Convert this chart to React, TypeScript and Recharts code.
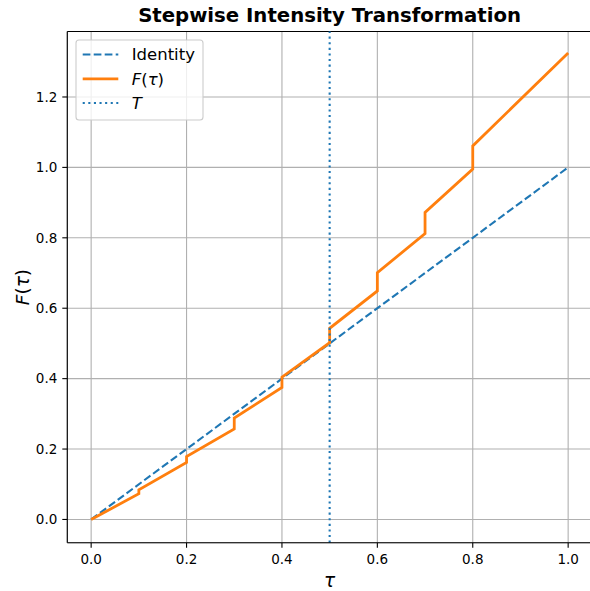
import React from 'react';
import { LineChart, Line, XAxis, YAxis, CartesianGrid, ReferenceLine, Label } from 'recharts';

// values
const TAU_POINTS = [0, 0.1, 0.1, 0.2, 0.2, 0.3, 0.3, 0.4, 0.4, 0.5, 0.5, 0.6, 0.6, 0.7, 0.7, 0.8, 0.8, 1.0];
const F_POINTS = [0, 0.073, 0.084, 0.162, 0.179, 0.257, 0.288, 0.375, 0.404, 0.502, 0.543, 0.649, 0.701, 0.812, 0.872, 0.995, 1.061, 1.325];
const IDENTITY_X = [0, 1];
const IDENTITY_Y = [0, 1];
const THRESHOLD = 0.5;

const X_TICKS = [0, 0.2, 0.4, 0.6, 0.8, 1.0];
const Y_TICKS = [0, 0.2, 0.4, 0.6, 0.8, 1.0, 1.2];
const X_DOMAIN: [number, number] = [-0.05, 1.05];
const Y_DOMAIN: [number, number] = [-0.066, 1.386];

const BLUE = '#1f77b4';
const ORANGE = '#ff7f0e';
const FONT = '"DejaVu Sans", sans-serif';

const fData = TAU_POINTS.map((x, i) => ({ x, y: F_POINTS[i] }));
const idData = IDENTITY_X.map((x, i) => ({ x, y: IDENTITY_Y[i] }));

const YLabel = ({ viewBox }: any) => {
  const cy = viewBox.y + viewBox.height / 2;
  return (
    <text transform={`translate(23, ${cy}) rotate(-90)`} textAnchor="middle" dy="0.35em" fontSize={18.5} fontFamily={FONT} fill="#000">
      <tspan fontStyle="italic">F</tspan>(<tspan fontStyle="italic">τ</tspan>)
    </text>
  );
};

const XLabel = ({ viewBox }: any) => {
  const cx = viewBox.x + viewBox.width / 2;
  return (
    <text x={cx} y={581} textAnchor="middle" dy="0.35em" fontSize={18.5} fontFamily={FONT} fontStyle="italic" fill="#000">
      τ
    </text>
  );
};

const tickStyle = { fontSize: 13.5, fontFamily: FONT, fill: '#000' };
const fmt = (v: number) => v.toFixed(1);

const LegendBox = () => {
  const rows = [
    { label: 'Identity', stroke: BLUE, dash: '7.7 3.3', width: 2.1 },
    { label: 'F(τ)', stroke: ORANGE, dash: undefined, width: 2.8 },
    { label: 'T', stroke: BLUE, dash: '2.1 3.5', width: 2.1 },
  ];
  const ys = [54.5, 78.8, 103];
  return (
    <g>
      <rect x={76} y={40} width={127} height={80} rx={3} fill="#fff" fillOpacity={0.8} stroke="#cccccc" strokeWidth={1.1} />
      {rows.map((r, i) => (
        <g key={r.label}>
          <line x1={82.7} x2={118.3} y1={ys[i]} y2={ys[i]} stroke={r.stroke} strokeWidth={r.width} strokeDasharray={r.dash} />
          <text x={131.7} y={ys[i]} dy="0.35em" fontSize={16.5} fontFamily={FONT} fill="#000">
            {r.label === 'Identity' ? 'Identity' : r.label === 'T' ? <tspan fontStyle="italic">T</tspan> : (
              <>
                <tspan fontStyle="italic">F</tspan>(<tspan fontStyle="italic">τ</tspan>)
              </>
            )}
          </text>
        </g>
      ))}
    </g>
  );
};

export default function App() {
  return (
    <div style={{ position: 'absolute', left: 0, top: 0, width: 590, height: 591, overflow: 'hidden', background: '#fff' }}>
      <LineChart width={600} height={591} margin={{ top: 31.5, right: 8, bottom: 0, left: 0 }}>
        <CartesianGrid stroke="#b0b0b0" strokeWidth={1.1} />
        <XAxis
          type="number"
          dataKey="x"
          domain={X_DOMAIN}
          ticks={X_TICKS}
          allowDataOverflow
          height={48.3}
          tickFormatter={fmt}
          tick={tickStyle}
          tickSize={5}
          tickMargin={6.5}
          axisLine={{ stroke: '#000', strokeWidth: 1.1 }}
          tickLine={{ stroke: '#000', strokeWidth: 1.1 }}
        >
          <Label content={<XLabel />} />
        </XAxis>
        <YAxis
          type="number"
          dataKey="y"
          domain={Y_DOMAIN}
          ticks={Y_TICKS}
          allowDataOverflow
          width={67.3}
          tickFormatter={fmt}
          tick={tickStyle}
          tickSize={5}
          tickMargin={5}
          axisLine={{ stroke: '#000', strokeWidth: 1.1 }}
          tickLine={{ stroke: '#000', strokeWidth: 1.1 }}
        >
          <Label content={<YLabel />} />
        </YAxis>
        <ReferenceLine y={Y_DOMAIN[1]} stroke="#000" strokeWidth={1.1} />
        <ReferenceLine x={X_DOMAIN[1]} stroke="#000" strokeWidth={1.1} />
        <Line data={idData} dataKey="y" stroke={BLUE} strokeWidth={2.1} strokeDasharray="7.7 3.3" dot={false} isAnimationActive={false} />
        <Line data={fData} dataKey="y" stroke={ORANGE} strokeWidth={2.8} dot={false} isAnimationActive={false} />
        <ReferenceLine x={THRESHOLD} stroke={BLUE} strokeWidth={2.1} strokeDasharray="2.1 3.5" />
      </LineChart>
      <svg width={590} height={591} style={{ position: 'absolute', left: 0, top: 0, pointerEvents: 'none' }}>
        <text x={329.6} y={22.2} textAnchor="middle" fontSize={19.7} fontWeight="bold" fontFamily={FONT} fill="#000">
          Stepwise Intensity Transformation
        </text>
        <LegendBox />
      </svg>
    </div>
  );
}
